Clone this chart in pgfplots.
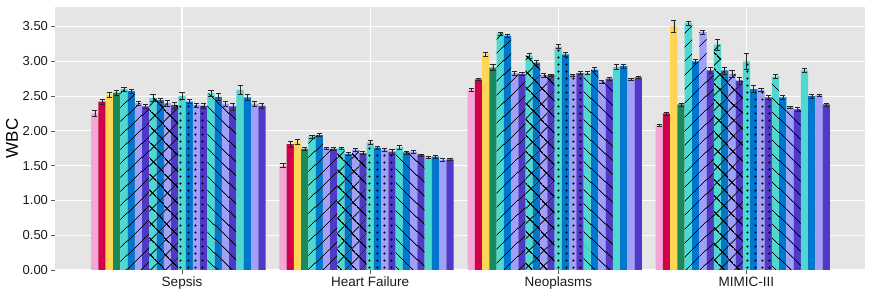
\documentclass[border=0pt]{standalone}
\usepackage{pgfplots}
\pgfplotsset{compat=1.18}
\usepackage{fontspec}
\setmainfont{Liberation Sans}
\usetikzlibrary{patterns.meta}
\definecolor{panel}{HTML}{E5E5E5}
\definecolor{cPink}{HTML}{F4A6D7}
\definecolor{cRed}{HTML}{D1004B}
\definecolor{cYel}{HTML}{FFD555}
\definecolor{cGrn}{HTML}{1B8A5A}
\definecolor{cTur}{HTML}{4ED8CF}
\definecolor{cBlu}{HTML}{0077CC}
\definecolor{cLav}{HTML}{A0A0F8}
\definecolor{cInd}{HTML}{5038C8}
\definecolor{txt}{HTML}{1A1A1A}
\tikzdeclarepattern{
  name=bNE, type=colored,
  bottom left={(0,0)}, top right={(10.3bp,10.3bp)},
  tile size={(10.3bp,10.3bp)},
  tile transformation={rotate=45},
  code={\path[draw=black, line width=0.95bp] (0,5.15bp) -- (10.3bp,5.15bp);}
}
\tikzdeclarepattern{
  name=bNW, type=colored,
  bottom left={(0,0)}, top right={(10.3bp,10.3bp)},
  tile size={(10.3bp,10.3bp)},
  tile transformation={rotate=-45},
  code={\path[draw=black, line width=0.95bp] (0,5.15bp) -- (10.3bp,5.15bp);}
}
\tikzdeclarepattern{
  name=bHX, type=colored,
  bottom left={(0,0)}, top right={(10.6bp,10.6bp)},
  tile size={(10.6bp,10.6bp)},
  tile transformation={rotate=45},
  code={\path[draw=black, line width=0.95bp] (0,5.3bp) -- (10.6bp,5.3bp) (5.3bp,0) -- (5.3bp,10.6bp);}
}
\tikzdeclarepattern{
  name=bDT, type=colored,
  bottom left={(0,0)}, top right={(7.4bp,7.4bp)},
  tile size={(7.4bp,7.4bp)},
  code={\path[fill=black] (3.7bp,3.7bp) circle[radius=1.25bp];}
}
\pgfplotsset{
  pl/.style={fill=#1, draw=none},
  ne/.style={pl=#1, postaction={pattern=bNE}},
  nw/.style={pl=#1, postaction={pattern=bNW}},
  hx/.style={pl=#1, postaction={pattern=bHX}},
  dt/.style={pl=#1, postaction={pattern=bDT}},
  vgrid/.style={sharp plot, draw=white, line width=1.1pt, mark=none, forget plot, error bars/y dir=none},
}
\begin{document}
\begin{tikzpicture}
\begin{axis}[
  set layers=standard,
  at={(0,0)}, anchor=south west,
  scale only axis, width=810bp, height=263bp,
  ybar=0pt, bar width=0.0386,
  xmin=-0.675, xmax=3.63,
  ymin=0, ymax=3.78,
  xtick={0,1,2,3},
  xticklabels={Sepsis, Heart Failure, Neoplasms, MIMIC-III},
  ytick={0,0.5,1,1.5,2,2.5,3,3.5},
  /pgf/number format/assume math mode=true,
  yticklabel style={/pgf/number format/fixed, /pgf/number format/fixed zerofill, /pgf/number format/precision=2},
  tick label style={font=\fontsize{13bp}{15bp}\selectfont, text=txt},
  xticklabel style={font=\fontsize{13.5bp}{15bp}\selectfont},
  ylabel={WBC},
  ylabel style={at={(axis description cs:-0.053,0.5)}, anchor=center, font=\fontsize{17bp}{19bp}\selectfont, text=black},
  axis background/.style={fill=panel},
  axis line style={draw=none},
  tick pos=left, tick align=outside,
  major tick length=3.5bp,
  tick style={gray!70!black, line width=0.5pt},
  ymajorgrids=true, xmajorgrids=false,
  major grid style={white, line width=1.1pt},
  error bars/y dir=both, error bars/y explicit,
  error bars/error bar style={black!85, line width=0.55pt},
  error bars/error mark options={rotate=90, mark size=2.6bp, line width=0.55pt, black!85},
]
\addplot[vgrid] coordinates {(0,2.45) (0,3.78)};
\addplot[vgrid] coordinates {(1,1.78) (1,3.78)};
\addplot[vgrid] coordinates {(2,3.16) (2,3.78)};
\addplot[vgrid] coordinates {(3,2.95) (3,3.78)};
\addplot[pl=cPink, bar shift=-0.4632] coordinates {(0,2.25)+-(0,0.04) (1,1.50)+-(0,0.03) (2,2.59)+-(0,0.02) (3,2.08)+-(0,0.02)};
\addplot[pl=cRed, bar shift=-0.4246] coordinates {(0,2.42)+-(0,0.04) (1,1.81)+-(0,0.04) (2,2.74)+-(0,0.02) (3,2.25)+-(0,0.02)};
\addplot[pl=cYel, bar shift=-0.3860] coordinates {(0,2.52)+-(0,0.04) (1,1.84)+-(0,0.04) (2,3.10)+-(0,0.03) (3,3.50)+-(0,0.09)};
\addplot[pl=cGrn, bar shift=-0.3474] coordinates {(0,2.55)+-(0,0.04) (1,1.74)+-(0,0.02) (2,2.91)+-(0,0.04) (3,2.38)+-(0,0.02)};
\addplot[ne=cTur, bar shift=-0.3088] coordinates {(0,2.60)+-(0,0.03) (1,1.92)+-(0,0.02) (2,3.40)+-(0,0.02) (3,3.55)+-(0,0.03)};
\addplot[ne=cBlu, bar shift=-0.2702] coordinates {(0,2.57)+-(0,0.03) (1,1.94)+-(0,0.02) (2,3.37)+-(0,0.02) (3,3.00)+-(0,0.03)};
\addplot[ne=cLav, bar shift=-0.2316] coordinates {(0,2.40)+-(0,0.03) (1,1.75)+-(0,0.02) (2,2.83)+-(0,0.03) (3,3.42)+-(0,0.03)};
\addplot[ne=cInd, bar shift=-0.1930] coordinates {(0,2.35)+-(0,0.03) (1,1.74)+-(0,0.02) (2,2.82)+-(0,0.02) (3,2.87)+-(0,0.04)};
\addplot[hx=cTur, bar shift=-0.1544] coordinates {(0,2.47)+-(0,0.05) (1,1.75)+-(0,0.02) (2,3.08)+-(0,0.03) (3,3.24)+-(0,0.08)};
\addplot[hx=cBlu, bar shift=-0.1158] coordinates {(0,2.44)+-(0,0.03) (1,1.67)+-(0,0.02) (2,2.98)+-(0,0.03) (3,2.87)+-(0,0.05)};
\addplot[hx=cLav, bar shift=-0.0772] coordinates {(0,2.40)+-(0,0.04) (1,1.73)+-(0,0.02) (2,2.80)+-(0,0.03) (3,2.82)+-(0,0.05)};
\addplot[hx=cInd, bar shift=-0.0386] coordinates {(0,2.37)+-(0,0.04) (1,1.68)+-(0,0.02) (2,2.80)+-(0,0.02) (3,2.72)+-(0,0.05)};
\addplot[dt=cTur, bar shift=0.00001] coordinates {(0,2.50)+-(0,0.05) (1,1.83)+-(0,0.03) (2,3.21)+-(0,0.03) (3,3.00)+-(0,0.12)};
\addplot[dt=cBlu, bar shift=0.0386] coordinates {(0,2.42)+-(0,0.03) (1,1.76)+-(0,0.02) (2,3.10)+-(0,0.03) (3,2.60)+-(0,0.05)};
\addplot[dt=cLav, bar shift=0.0772] coordinates {(0,2.37)+-(0,0.03) (1,1.73)+-(0,0.02) (2,2.80)+-(0,0.02) (3,2.59)+-(0,0.02)};
\addplot[dt=cInd, bar shift=0.1158] coordinates {(0,2.36)+-(0,0.03) (1,1.70)+-(0,0.03) (2,2.83)+-(0,0.02) (3,2.48)+-(0,0.03)};
\addplot[nw=cTur, bar shift=0.1544] coordinates {(0,2.54)+-(0,0.04) (1,1.76)+-(0,0.03) (2,2.83)+-(0,0.02) (3,2.78)+-(0,0.03)};
\addplot[nw=cBlu, bar shift=0.1930] coordinates {(0,2.49)+-(0,0.05) (1,1.69)+-(0,0.02) (2,2.88)+-(0,0.03) (3,2.48)+-(0,0.03)};
\addplot[nw=cLav, bar shift=0.2316] coordinates {(0,2.39)+-(0,0.04) (1,1.70)+-(0,0.02) (2,2.71)+-(0,0.02) (3,2.34)+-(0,0.02)};
\addplot[nw=cInd, bar shift=0.2702] coordinates {(0,2.35)+-(0,0.05) (1,1.65)+-(0,0.02) (2,2.75)+-(0,0.02) (3,2.31)+-(0,0.03)};
\addplot[pl=cTur, bar shift=0.3088] coordinates {(0,2.59)+-(0,0.06) (1,1.62)+-(0,0.02) (2,2.92)+-(0,0.03) (3,2.87)+-(0,0.03)};
\addplot[pl=cBlu, bar shift=0.3474] coordinates {(0,2.48)+-(0,0.04) (1,1.63)+-(0,0.02) (2,2.93)+-(0,0.03) (3,2.50)+-(0,0.03)};
\addplot[pl=cLav, bar shift=0.3860] coordinates {(0,2.39)+-(0,0.03) (1,1.58)+-(0,0.02) (2,2.74)+-(0,0.02) (3,2.51)+-(0,0.02)};
\addplot[pl=cInd, bar shift=0.4246] coordinates {(0,2.36)+-(0,0.03) (1,1.59)+-(0,0.02) (2,2.77)+-(0,0.02) (3,2.38)+-(0,0.02)};
\end{axis}
\pgfresetboundingbox
\path[use as bounding box] (-55bp,-22bp) rectangle (817bp,270bp);
\end{tikzpicture}
\end{document}
